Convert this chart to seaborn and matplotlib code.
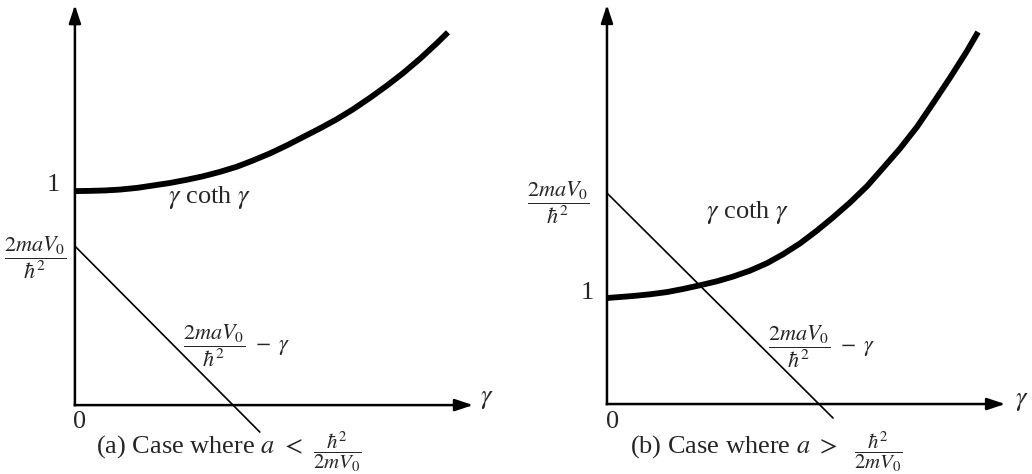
import numpy as np
import pandas as pd
import matplotlib
matplotlib.use("Agg")
import matplotlib.pyplot as plt
import seaborn as sns

# ========================
# DATA
# ========================
# (a) a < hbar^2 / 2mV0
gamma_a = [0, 0.070, 0.140, 0.210, 0.290, 0.364, 0.444, 0.523, 0.598, 0.678,
           0.757, 0.832, 0.911, 0.991, 1.065, 1.145, 1.224, 1.299, 1.379, 1.458,
           1.533, 1.612, 1.692, 1.743]
coth_a = [1.000, 1.001, 1.003, 1.007, 1.015, 1.026, 1.038, 1.053, 1.069, 1.090,
          1.114, 1.143, 1.176, 1.214, 1.252, 1.293, 1.336, 1.382, 1.436, 1.493,
          1.551, 1.618, 1.692, 1.742]
line_x_a = [0, 0.864]
line_y_a = [0.743, -0.126]

# (b) a > hbar^2 / 2mV0
gamma_b = [0, 0.245, 0.406, 0.566, 0.717, 0.877, 1.038, 1.189, 1.349, 1.509,
           1.660, 1.821, 1.981, 2.132, 2.292, 2.453, 2.604, 2.764, 2.925, 3.075,
           3.236, 3.396, 3.500]
coth_b = [1.000, 1.019, 1.035, 1.056, 1.085, 1.120, 1.158, 1.202, 1.258, 1.328,
          1.412, 1.515, 1.636, 1.760, 1.900, 2.055, 2.226, 2.410, 2.615, 2.836,
          3.078, 3.330, 3.509]
line_x_b = [0, 2.132]
line_y_b = [1.99, -0.132]

frac = r"$\dfrac{2maV_0}{\hbar^2}$"
line_label = r"$\dfrac{2maV_0}{\hbar^2}\ -\ \gamma$"
caption_text = [r"(a) Case where $a\ <$", r"(b) Case where $a\ >$"]
caption_frac = r"$\dfrac{\hbar^2}{2mV_0}$"

# ========================
# STYLE
# ========================
sns.set_theme(style="white")
plt.rcParams["font.family"] = ["Liberation Serif", "DejaVu Serif"]
plt.rcParams["mathtext.fontset"] = "stix"

FS = 19
FS_FRAC = 16
FS_CAPFRAC = 15

fig = plt.figure(figsize=(10.32, 4.74), dpi=100)
ax1 = fig.add_axes([0, 0, 0.5, 1])
ax2 = fig.add_axes([0.5, 0, 0.5, 1])


def draw_axes(ax, xtip, ytip):
    arrow = dict(arrowstyle="-|>,head_length=0.9,head_width=0.3", lw=1.8,
                 color="black", shrinkA=0, shrinkB=0, capstyle="projecting")
    ax.annotate("", xy=(xtip, 0), xytext=(0, 0), arrowprops=arrow)
    ax.annotate("", xy=(0, ytip), xytext=(0, 0), arrowprops=arrow)


def panel(ax, gx, gy, lx, ly, xlim, ylim, xtip, ytip, pos):
    ax.set_xlim(*xlim)
    ax.set_ylim(*ylim)
    ax.axis("off")
    draw_axes(ax, xtip, ytip)
    sns.lineplot(x=gx, y=gy, ax=ax, color="black", linewidth=4.2, sort=False,
                 estimator=None, solid_capstyle="butt")
    sns.lineplot(x=lx, y=ly, ax=ax, color="black", linewidth=1.2, sort=False,
                 estimator=None)
    ax.text(*pos["one"], "1", fontsize=FS, ha="center", va="center")
    ax.text(*pos["frac"], frac, fontsize=FS_FRAC, ha="center", va="center")
    ax.text(*pos["coth"], r"$\gamma$ coth $\gamma$", fontsize=FS, ha="center", va="center")
    ax.text(*pos["line"], line_label, fontsize=FS_FRAC, ha="left", va="center")
    ax.text(*pos["zero"], "0", fontsize=FS, ha="center", va="center")
    ax.text(*pos["gamma"], r"$\gamma$", fontsize=FS, ha="center", va="center")
    ax.text(*pos["cap"], pos["caption"], fontsize=FS, ha="right", va="center")
    ax.text(*pos["capfrac"], caption_frac, fontsize=FS_CAPFRAC, ha="center", va="center")


panel(ax1, gamma_a, coth_a, line_x_a, line_y_a,
      (-0.350, 2.061), (-0.322, 1.893), 1.86, 1.869,
      dict(one=(-0.103, 1.028), frac=(-0.187, 0.687), coth=(0.631, 0.972),
           line=(0.505, 0.280), zero=(0.023, -0.079), gamma=(1.925, 0.023),
           cap=(1.065, -0.196), capfrac=(1.224, -0.220), caption=caption_text[0]))

panel(ax2, gamma_b, coth_b, line_x_b, line_y_b,
      (-0.858, 4.009), (-0.660, 3.811), 3.755, 3.764,
      dict(one=(-0.189, 1.047), frac=(-0.462, 1.896), coth=(1.321, 1.811),
           line=(1.519, 0.538), zero=(0.057, -0.170), gamma=(3.915, 0.019),
           cap=(2.179, -0.406), capfrac=(2.557, -0.453), caption=caption_text[1]))

plt.savefig("out.png", dpi=100)
plt.close()
